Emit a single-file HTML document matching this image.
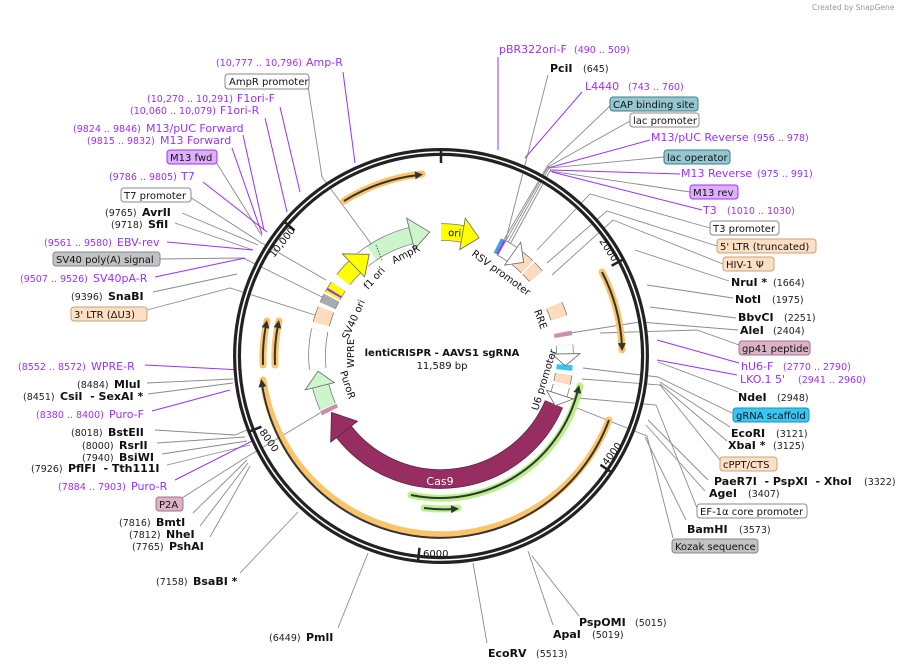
<!DOCTYPE html>
<html><head><meta charset="utf-8"><style>
html,body{margin:0;padding:0;background:#fff}
svg{display:block;font-family:"DejaVu Sans","Liberation Sans",sans-serif}
text{white-space:pre}
.n{font-size:9.5px;fill:#222}
.b{font-size:11px;font-weight:bold;fill:#111}
.p{font-size:11px;fill:#9b30ff}
.pn{font-size:9.5px;fill:#9b30ff}
.t{font-size:10px;fill:#111}
.g{stroke:#8a8a8a;stroke-width:0.9;fill:none}
.v{stroke:#9b30ff;stroke-width:1;fill:none}
</style></head><body>
<svg width="910" height="670" viewBox="0 0 910 670" xmlns="http://www.w3.org/2000/svg">
<defs>
<marker id="ah" markerWidth="8" markerHeight="8" refX="3" refY="4" orient="auto" markerUnits="userSpaceOnUse"><path d="M0,0 L8,4 L0,8 z" fill="#333"/></marker>
</defs>
<text x="812" y="10" style="font-size:7.5px;fill:#999">Created by SnapGene</text>

<!-- leader lines left -->
<polyline class="v" points="343,72 355,163"/>
<polyline class="g" points="308,86 322,177 372,245"/>
<polyline class="v" points="280,107 300,192"/>
<polyline class="v" points="265,118 287,212"/>
<polyline class="v" points="243,135 264,230"/>
<polyline class="v" points="232,148 262,234"/>
<polyline class="g" points="216,162 262,236"/>
<polyline class="v" points="203,182 267,232"/>
<polyline class="g" points="190,197 260,242 326,280"/>
<polyline class="g" points="182,213 258,245"/>
<polyline class="g" points="175,223 253,250"/>
<polyline class="v" points="167,242 253,250"/>
<polyline class="g" points="159,259 243,258 328,300"/>
<polyline class="v" points="155,277 245,258"/>
<polyline class="g" points="153,292 237,274"/>
<polyline class="g" points="147,310 230,288 318,316"/>
<polyline class="v" points="145,365 242,370"/>
<polyline class="g" points="147,383 233,379"/>
<polyline class="g" points="148,394 233,383"/>
<polyline class="v" points="152,411 230,390"/>
<polyline class="g" points="155,430 235,435 247,430"/>
<polyline class="g" points="157,443 245,437"/>
<polyline class="g" points="162,454 247,441"/>
<polyline class="g" points="167,465 250,445"/>
<polyline class="v" points="175,480 258,438"/>
<polyline class="g" points="182,498 245,458 320,413"/>
<polyline class="g" points="193,513 247,460"/>
<polyline class="g" points="200,526 248,463"/>
<polyline class="g" points="210,537 250,466"/>
<polyline class="g" points="240,573 298,512"/>
<polyline class="g" points="338,628 368,553"/>
<polyline class="g" points="487,643 473,563"/>
<polyline class="g" points="553,625 528,551"/>
<polyline class="g" points="579,616 532,556"/>
<!-- leader lines right -->
<polyline class="v" points="498,57 498,150"/>
<polyline class="g" points="548,75 505,243"/>
<polyline class="v" points="582,92 525,158"/>
<polyline class="g" points="610,106 548,165 502,243"/>
<polyline class="g" points="630,121 548,167 504,244"/>
<polyline class="v" points="650,140 548,168"/>
<polyline class="g" points="664,157 549,168 506,246"/>
<polyline class="v" points="680,174 550,170"/>
<polyline class="g" points="690,192 550,171 508,248"/>
<polyline class="v" points="702,210 552,172"/>
<polyline class="g" points="710,228 590,194 537,250"/>
<polyline class="g" points="717,246 607,211 547,263"/>
<polyline class="g" points="723,264 613,220 552,275"/>
<polyline class="g" points="729,281 635,250"/>
<polyline class="g" points="733,298 647,285"/>
<polyline class="g" points="736,318 650,307"/>
<polyline class="g" points="738,330 640,322 570,333"/>
<polyline class="g" points="739,345 697,330 600,333"/>
<polyline class="v" points="739,363 657,340"/>
<polyline class="v" points="737,375 657,360"/>
<polyline class="g" points="738,392 658,362"/>
<polyline class="g" points="732,413 658,377 583,368"/>
<polyline class="g" points="730,427 660,382"/>
<polyline class="g" points="727,441 660,384"/>
<polyline class="g" points="720,460 660,385 582,379"/>
<polyline class="g" points="708,480 648,420"/>
<polyline class="g" points="705,491 646,425"/>
<polyline class="g" points="697,508 656,405 578,398"/>
<polyline class="g" points="686,520 645,437"/>
<polyline class="g" points="673,538 647,436 577,408"/>

<!-- ring -->
<circle cx="441" cy="356" r="204" fill="none" stroke="#222" stroke-width="8"/>
<circle cx="441" cy="356" r="204" fill="none" stroke="#fff" stroke-width="1.6"/>
<g stroke="#222" stroke-width="2.5">
<line x1="441" y1="149" x2="441" y2="163"/>
<line x1="624" y1="259" x2="611.6" y2="265.7"/>
<line x1="612" y1="472.6" x2="600.4" y2="464.8"/>
<line x1="417.9" y1="561.7" x2="419.5" y2="547.8"/>
<line x1="248.4" y1="431.9" x2="261.4" y2="426.7"/>
<line x1="283.8" y1="221.3" x2="294.5" y2="230.4"/>
</g>
<g style="font-size:10px;fill:#111">
<text transform="translate(599,241) rotate(57)">2000</text>
<text transform="translate(607,466) rotate(-53)">4000</text>
<text x="423" y="557">6000</text>
<text transform="translate(259,432) rotate(55)">8000</text>
<text transform="translate(274,258) rotate(-52)">10,000</text>
</g>

<!-- outer arcs -->
<g fill="none">
<path d="M344,201 A183,183 0 0 1 422,174" stroke="#fbc46a" stroke-width="7" stroke-linecap="round"/>
<path d="M344,201 A183,183 0 0 1 418,175" stroke="#333" stroke-width="2" marker-end="url(#ah)"/>
<path d="M602,272 A181,181 0 0 1 622,350" stroke="#fbc46a" stroke-width="7" stroke-linecap="round"/>
<path d="M602,272 A181,181 0 0 1 622,346" stroke="#333" stroke-width="2" marker-end="url(#ah)"/>
<path d="M609,420 A180,180 0 0 1 263,380" stroke="#fbc46a" stroke-width="7" stroke-linecap="round"/>
<path d="M609,420 A180,180 0 0 1 262,384" stroke="#333" stroke-width="2" marker-end="url(#ah)"/>
<path d="M263,365 A178,178 0 0 1 267,321" stroke="#fbc46a" stroke-width="7" stroke-linecap="round"/>
<path d="M263,365 A178,178 0 0 1 266,325" stroke="#333" stroke-width="2" marker-end="url(#ah)"/>
<path d="M275,365 A166,166 0 0 1 279,321" stroke="#fbc46a" stroke-width="7" stroke-linecap="round"/>
<path d="M275,365 A166,166 0 0 1 278,325" stroke="#333" stroke-width="2" marker-end="url(#ah)"/>
<path d="M411,495 A142,142 0 0 0 580,386" stroke="#b8f08a" stroke-width="7" stroke-linecap="round"/>
<path d="M411,495 A142,142 0 0 0 578,390" stroke="#333" stroke-width="2" marker-end="url(#ah)"/>
<path d="M424,508 A153,153 0 0 0 458,508" stroke="#b8f08a" stroke-width="7" stroke-linecap="round"/>
<path d="M424,508 A153,153 0 0 0 454,509" stroke="#333" stroke-width="2" marker-end="url(#ah)"/>
</g>

<!-- inner features -->
<g fill="none">
<g stroke="#777" stroke-width="17.5">
<circle cx="441" cy="356" r="124" pathLength="360" stroke-dasharray="10 350" transform="rotate(-90 441 356)"/>
<circle cx="441" cy="356" r="124" pathLength="360" stroke-dasharray="25 335" transform="rotate(231 441 356)"/>
<circle cx="441" cy="356" r="124" pathLength="360" stroke-dasharray="8 352" transform="rotate(218 441 356)"/>
<circle cx="441" cy="356" r="124" pathLength="360" stroke-dasharray="5 355" transform="rotate(209 441 356)"/>
<circle cx="441" cy="356" r="124" pathLength="360" stroke-dasharray="4 356" transform="rotate(204 441 356)"/>
<circle cx="441" cy="356" r="124" pathLength="360" stroke-dasharray="7 353" transform="rotate(195 441 356)"/>
<circle cx="441" cy="356" r="124" pathLength="360" stroke-dasharray="18 342" transform="rotate(174 441 356)"/>
<circle cx="441" cy="356" r="124" pathLength="360" stroke-dasharray="10 350" transform="rotate(156 441 356)"/>
<circle cx="441" cy="356" r="124" pathLength="360" stroke-dasharray="6 354" transform="rotate(-61 441 356)"/>
<circle cx="441" cy="356" r="124" pathLength="360" stroke-dasharray="6 354" transform="rotate(-52 441 356)"/>
<circle cx="441" cy="356" r="124" pathLength="360" stroke-dasharray="5 355" transform="rotate(-45 441 356)"/>
<circle cx="441" cy="356" r="124" pathLength="360" stroke-dasharray="6 354" transform="rotate(-24 441 356)"/>
<circle cx="441" cy="356" r="124" pathLength="360" stroke-dasharray="4 356" transform="rotate(-5 441 356)"/>
<circle cx="441" cy="356" r="124" pathLength="360" stroke-dasharray="4 356" transform="rotate(8.5 441 356)"/>
<circle cx="441" cy="356" r="124" pathLength="360" stroke-dasharray="4 356" transform="rotate(14 441 356)"/>
</g>
<g stroke-width="16">
<circle cx="441" cy="356" r="124" pathLength="360" stroke="#ffff00" stroke-dasharray="10 350" transform="rotate(-90 441 356)"/>
<circle cx="441" cy="356" r="124" pathLength="360" stroke="#ccf5cc" stroke-dasharray="25 335" transform="rotate(231 441 356)"/>
<circle cx="441" cy="356" r="124" pathLength="360" stroke="#ffffff" stroke-dasharray="5 355" transform="rotate(231 441 356)"/>
<circle cx="441" cy="356" r="124" pathLength="360" stroke="#ffff00" stroke-dasharray="8 352" transform="rotate(218 441 356)"/>
<circle cx="441" cy="356" r="124" pathLength="360" stroke="#ffff00" stroke-dasharray="5 355" transform="rotate(209 441 356)"/>
<circle cx="441" cy="356" r="124" pathLength="360" stroke="#a8acb0" stroke-dasharray="4 356" transform="rotate(204 441 356)"/>
<circle cx="441" cy="356" r="124" pathLength="360" stroke="#fddcbb" stroke-dasharray="7 353" transform="rotate(195 441 356)"/>
<circle cx="441" cy="356" r="124" pathLength="360" stroke="#ffffff" stroke-dasharray="18 342" transform="rotate(174 441 356)"/>
<circle cx="441" cy="356" r="124" pathLength="360" stroke="#ccf5cc" stroke-dasharray="10 350" transform="rotate(156 441 356)"/>
<circle cx="441" cy="356" r="124" pathLength="360" stroke="#ffffff" stroke-dasharray="6 354" transform="rotate(-61 441 356)"/>
<circle cx="441" cy="356" r="124" pathLength="360" stroke="#fddcbb" stroke-dasharray="6 354" transform="rotate(-52 441 356)"/>
<circle cx="441" cy="356" r="124" pathLength="360" stroke="#fddcbb" stroke-dasharray="5 355" transform="rotate(-45 441 356)"/>
<circle cx="441" cy="356" r="124" pathLength="360" stroke="#fddcbb" stroke-dasharray="6 354" transform="rotate(-24 441 356)"/>
<circle cx="441" cy="356" r="124" pathLength="360" stroke="#ffffff" stroke-dasharray="4 356" transform="rotate(-5 441 356)"/>
<circle cx="441" cy="356" r="124" pathLength="360" stroke="#33c5f3" stroke-dasharray="2.5 357.5" transform="rotate(4 441 356)"/>
<circle cx="441" cy="356" r="124" pathLength="360" stroke="#fddcbb" stroke-dasharray="4 356" transform="rotate(8.5 441 356)"/>
<circle cx="441" cy="356" r="124" pathLength="360" stroke="#ffffff" stroke-dasharray="4 356" transform="rotate(14 441 356)"/>
</g>
<circle cx="441" cy="356" r="124" pathLength="360" stroke="#c98fab" stroke-width="18" stroke-dasharray="2 358" transform="rotate(153.5 441 356)"/>
<circle cx="441" cy="356" r="124" pathLength="360" stroke="#c98fab" stroke-width="18" stroke-dasharray="2 358" transform="rotate(-11 441 356)"/>
<circle cx="441" cy="356" r="124" pathLength="360" stroke="#9b30ff" stroke-width="16" stroke-dasharray="1 359" transform="rotate(210 441 356)"/>
<circle cx="441" cy="356" r="124" pathLength="360" stroke="#38a8d8" stroke-width="16" stroke-dasharray="1.5 358.5" transform="rotate(-63 441 356)"/>
<circle cx="441" cy="356" r="124" pathLength="360" stroke="#9b30ff" stroke-width="16" stroke-dasharray="1 359" transform="rotate(-61.5 441 356)"/>
<path d="M554,404 A123,123 0 0 1 344,432" stroke="#5f1f3d" stroke-width="19.5"/>
<path d="M554,404 A123,123 0 0 1 344,432" stroke="#972e62" stroke-width="18"/>
</g>
<g stroke="#666" stroke-width="0.8">
<polygon points="441,248 441,216 458,233" fill="#ffff00" transform="rotate(10 441 356)"/>
<polygon points="441,246 441,214 460,233" fill="#ccf5cc" transform="rotate(-14 441 356)"/>
<polygon points="441,246 441,214 460,233" fill="#ffff00" transform="rotate(-44 441 356)"/>
<polygon points="441,246 441,216 456,233" fill="#ccf5cc" transform="rotate(-104 441 356)"/>
<polygon points="441,245 441,217 455,232" fill="#fff" transform="rotate(35 441 356)"/>
<polygon points="441,245 441,217 453,232" fill="#fff" transform="rotate(89 441 356)"/>
<polygon points="441,245 441,217 453,232" fill="#fff" transform="rotate(108 441 356)"/>
<polygon points="441,250 441,216 464,235" fill="#972e62" stroke="#5f1f3d" transform="rotate(232 441 356)"/>
</g>
<g stroke="#555" stroke-width="1" stroke-dasharray="1.5 1.5"><line x1="376" y1="245" x2="382" y2="260"/></g>

<!-- inner labels -->
<g style="font-size:10px;fill:#111">
<text transform="translate(448,236) rotate(3)">ori</text>
<text transform="translate(394,264) rotate(-27)">AmpR</text>
<text transform="translate(368,290) rotate(-48)">f1 ori</text>
<text transform="translate(348,340) rotate(-66)">SV40 ori</text>
<text transform="translate(354,368) rotate(-90)">WPRE</text>
<text transform="translate(340,372) rotate(72)">PuroR</text>
<text transform="translate(471,255) rotate(36)">RSV promoter</text>
<text transform="translate(534,311) rotate(70)">RRE</text>
<text transform="translate(538,411) rotate(-73)">U6 promoter</text>
<text x="440" y="485" style="fill:#fff;font-size:11px" text-anchor="middle">Cas9</text>
</g>
<text x="442" y="356" text-anchor="middle" style="font-size:10px;font-weight:bold;fill:#111">lentiCRISPR - AAVS1 sgRNA</text>
<text x="442" y="369" text-anchor="middle" style="font-size:10px;fill:#111">11,589 bp</text>

<!-- boxes -->
<g stroke-width="1">
<rect x="225" y="74" width="84" height="15" rx="3" fill="#fff" stroke="#888"/>
<rect x="167" y="150" width="50" height="14" rx="3" fill="#deb0ff" stroke="#9b30ff"/>
<rect x="121" y="188" width="70" height="14" rx="3" fill="#fff" stroke="#888"/>
<rect x="53" y="252" width="107" height="14" rx="3" fill="#c0c2c5" stroke="#888"/>
<rect x="71" y="307" width="76" height="14" rx="3" fill="#fde0c4" stroke="#c9a07a"/>
<rect x="156" y="497" width="27" height="14" rx="3" fill="#dcb3c6" stroke="#a66f89"/>
<rect x="610" y="97" width="88" height="14" rx="3" fill="#96c7d0" stroke="#3a7f8a"/>
<rect x="630" y="113" width="69" height="14" rx="3" fill="#fff" stroke="#888"/>
<rect x="664" y="150" width="66" height="14" rx="3" fill="#96c7d0" stroke="#3a7f8a"/>
<rect x="690" y="185" width="48" height="14" rx="3" fill="#deb0ff" stroke="#9b30ff"/>
<rect x="710" y="221" width="69" height="14" rx="3" fill="#fff" stroke="#888"/>
<rect x="717" y="239" width="99" height="14" rx="3" fill="#fde0c4" stroke="#c9a07a"/>
<rect x="723" y="257" width="51" height="14" rx="3" fill="#fde0c4" stroke="#c9a07a"/>
<rect x="739" y="341" width="71" height="14" rx="3" fill="#dcb3c6" stroke="#a66f89"/>
<rect x="733" y="408" width="76" height="14" rx="3" fill="#38c6f4" stroke="#1b8db8"/>
<rect x="720" y="457" width="57" height="14" rx="3" fill="#fde0c4" stroke="#c9a07a"/>
<rect x="697" y="504" width="110" height="14" rx="3" fill="#fff" stroke="#888"/>
<rect x="672" y="539" width="86" height="14" rx="3" fill="#c0c2c5" stroke="#888"/>
</g>
<g>
<text class="t" x="229" y="85">AmpR promoter</text>
<text class="t" x="170" y="161">M13 fwd</text>
<text class="t" x="124" y="199">T7 promoter</text>
<text class="t" x="56" y="263">SV40 poly(A) signal</text>
<text class="t" x="74" y="318">3' LTR (ΔU3)</text>
<text class="t" x="159" y="508">P2A</text>
<text class="t" x="613" y="108">CAP binding site</text>
<text class="t" x="633" y="124">lac promoter</text>
<text class="t" x="667" y="161">lac operator</text>
<text class="t" x="693" y="196">M13 rev</text>
<text class="t" x="713" y="232">T3 promoter</text>
<text class="t" x="720" y="250">5' LTR (truncated)</text>
<text class="t" x="726" y="268">HIV-1 Ψ</text>
<text class="t" x="742" y="352">gp41 peptide</text>
<text class="t" x="736" y="419">gRNA scaffold</text>
<text class="t" x="723" y="468">cPPT/CTS</text>
<text class="t" x="700" y="515">EF-1α core promoter</text>
<text class="t" x="675" y="550">Kozak sequence</text>
</g>

<!-- left labels -->
<text class="pn" x="216" y="66">(10,777 .. 10,796)</text><text class="p" x="306" y="66">Amp-R</text>
<text class="pn" x="147" y="102">(10,270 .. 10,291)</text><text class="p" x="237" y="102">F1ori-F</text>
<text class="pn" x="130" y="114">(10,060 .. 10,079)</text><text class="p" x="220" y="114">F1ori-R</text>
<text class="pn" x="73" y="132">(9824 .. 9846)</text><text class="p" x="146" y="132">M13/pUC Forward</text>
<text class="pn" x="87" y="144">(9815 .. 9832)</text><text class="p" x="160" y="144">M13 Forward</text>
<text class="pn" x="109" y="180">(9786 .. 9805)</text><text class="p" x="181" y="180">T7</text>
<text class="n" x="105" y="216">(9765)</text><text class="b" x="142" y="216">AvrII</text>
<text class="n" x="111" y="228">(9718)</text><text class="b" x="148" y="228">SfiI</text>
<text class="pn" x="44" y="246">(9561 .. 9580)</text><text class="p" x="117" y="246">EBV-rev</text>
<text class="pn" x="20" y="282">(9507 .. 9526)</text><text class="p" x="93" y="282">SV40pA-R</text>
<text class="n" x="71" y="300">(9396)</text><text class="b" x="108" y="300">SnaBI</text>
<text class="pn" x="18" y="370">(8552 .. 8572)</text><text class="p" x="91" y="370">WPRE-R</text>
<text class="n" x="77" y="388">(8484)</text><text class="b" x="114" y="388">MluI</text>
<text class="n" x="23" y="400">(8451)</text><text class="b" x="60" y="400">CsiI  - SexAI *</text>
<text class="pn" x="36" y="418">(8380 .. 8400)</text><text class="p" x="109" y="418">Puro-F</text>
<text class="n" x="71" y="436">(8018)</text><text class="b" x="108" y="436">BstEII</text>
<text class="n" x="82" y="449">(8000)</text><text class="b" x="119" y="449">RsrII</text>
<text class="n" x="82" y="461">(7940)</text><text class="b" x="119" y="461">BsiWI</text>
<text class="n" x="31" y="472">(7926)</text><text class="b" x="68" y="472">PflFI  - Tth111I</text>
<text class="pn" x="58" y="490">(7884 .. 7903)</text><text class="p" x="131" y="490">Puro-R</text>
<text class="n" x="119" y="526">(7816)</text><text class="b" x="156" y="526">BmtI</text>
<text class="n" x="129" y="538">(7812)</text><text class="b" x="166" y="538">NheI</text>
<text class="n" x="132" y="550">(7765)</text><text class="b" x="169" y="550">PshAI</text>
<text class="n" x="156" y="585">(7158)</text><text class="b" x="193" y="585">BsaBI *</text>
<text class="n" x="269" y="641">(6449)</text><text class="b" x="306" y="641">PmlI</text>
<text class="b" x="488" y="657">EcoRV</text><text class="n" x="536" y="657">(5513)</text>
<text class="b" x="553" y="638">ApaI</text><text class="n" x="592" y="638">(5019)</text>
<text class="b" x="579" y="626">PspOMI</text><text class="n" x="635" y="626">(5015)</text>

<!-- right labels -->
<text class="p" x="499" y="53">pBR322ori-F</text><text class="pn" x="574" y="53">(490 .. 509)</text>
<text class="b" x="550" y="72">PciI</text><text class="n" x="583" y="72">(645)</text>
<text class="p" x="585" y="90">L4440</text><text class="pn" x="628" y="90">(743 .. 760)</text>
<text class="p" x="651" y="141">M13/pUC Reverse</text><text class="pn" x="753" y="141">(956 .. 978)</text>
<text class="p" x="681" y="177">M13 Reverse</text><text class="pn" x="757" y="177">(975 .. 991)</text>
<text class="p" x="703" y="214">T3</text><text class="pn" x="727" y="214">(1010 .. 1030)</text>
<text class="b" x="731" y="286">NruI *</text><text class="n" x="773" y="286">(1664)</text>
<text class="b" x="735" y="303">NotI</text><text class="n" x="772" y="303">(1975)</text>
<text class="b" x="738" y="321">BbvCI</text><text class="n" x="784" y="321">(2251)</text>
<text class="b" x="740" y="334">AleI</text><text class="n" x="773" y="334">(2404)</text>
<text class="p" x="741" y="370">hU6-F</text><text class="pn" x="783" y="370">(2770 .. 2790)</text>
<text class="p" x="740" y="383">LKO.1 5'</text><text class="pn" x="798" y="383">(2941 .. 2960)</text>
<text class="b" x="738" y="401">NdeI</text><text class="n" x="777" y="401">(2948)</text>
<text class="b" x="731" y="437">EcoRI</text><text class="n" x="776" y="437">(3121)</text>
<text class="b" x="728" y="449">XbaI *</text><text class="n" x="773" y="449">(3125)</text>
<text class="b" x="714" y="485">PaeR7I  - PspXI  - XhoI</text><text class="n" x="864" y="485">(3322)</text>
<text class="b" x="709" y="497">AgeI</text><text class="n" x="748" y="497">(3407)</text>
<text class="b" x="687" y="533">BamHI</text><text class="n" x="739" y="533">(3573)</text>
</svg>
</body></html>
